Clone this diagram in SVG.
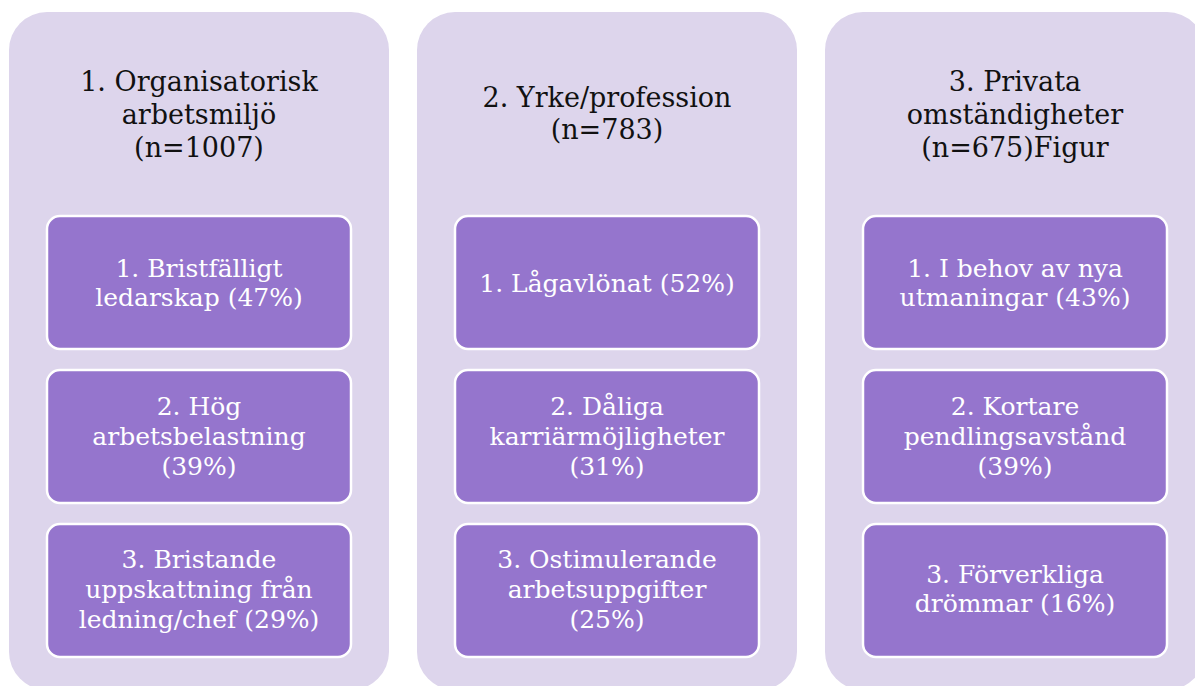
<svg xmlns="http://www.w3.org/2000/svg" width="1195" height="686" viewBox="0 0 1195 686">
<style>
.panel{fill:#DDD5EC;}
.box{fill:#9575CD;stroke:#FFFFFF;stroke-width:2.5;}
.title{font-family:"DejaVu Serif","Liberation Serif",serif;font-size:27px;fill:#111111;text-anchor:middle;}
.lbl{font-family:"DejaVu Serif","Liberation Serif",serif;font-size:25px;fill:#FFFFFF;text-anchor:middle;}
</style>
<rect width="1195" height="686" fill="#FFFFFF"/>
<g id="panel1">
<rect class="panel" x="9" y="12" width="380" height="678" rx="38" ry="38"/>
<text class="title"><tspan x="199" y="91">1. Organisatorisk</tspan><tspan x="199" y="124">arbetsmiljö</tspan><tspan x="199" y="157">(n=1007)</tspan></text>
</g>
<g id="p1b1">
<rect class="box" x="47" y="216" width="304" height="133" rx="13" ry="13"/>
<text class="lbl"><tspan x="199" y="277">1. Bristfälligt</tspan><tspan x="199" y="306">ledarskap (47%)</tspan></text>
</g>
<g id="p1b2">
<rect class="box" x="47" y="370" width="304" height="133" rx="13" ry="13"/>
<text class="lbl"><tspan x="199" y="415">2. Hög</tspan><tspan x="199" y="445">arbetsbelastning</tspan><tspan x="199" y="475">(39%)</tspan></text>
</g>
<g id="p1b3">
<rect class="box" x="47" y="524" width="304" height="133" rx="13" ry="13"/>
<text class="lbl"><tspan x="199" y="568">3. Bristande</tspan><tspan x="199" y="598">uppskattning från</tspan><tspan x="199" y="628">ledning/chef (29%)</tspan></text>
</g>
<g id="panel2">
<rect class="panel" x="417" y="12" width="380" height="678" rx="38" ry="38"/>
<text class="title"><tspan x="607" y="107">2. Yrke/profession</tspan><tspan x="607" y="139">(n=783)</tspan></text>
</g>
<g id="p2b1">
<rect class="box" x="455" y="216" width="304" height="133" rx="13" ry="13"/>
<text class="lbl"><tspan x="607" y="292">1. Lågavlönat (52%)</tspan></text>
</g>
<g id="p2b2">
<rect class="box" x="455" y="370" width="304" height="133" rx="13" ry="13"/>
<text class="lbl"><tspan x="607" y="415">2. Dåliga</tspan><tspan x="607" y="445">karriärmöjligheter</tspan><tspan x="607" y="475">(31%)</tspan></text>
</g>
<g id="p2b3">
<rect class="box" x="455" y="524" width="304" height="133" rx="13" ry="13"/>
<text class="lbl"><tspan x="607" y="568">3. Ostimulerande</tspan><tspan x="607" y="598">arbetsuppgifter</tspan><tspan x="607" y="628">(25%)</tspan></text>
</g>
<g id="panel3">
<rect class="panel" x="825" y="12" width="380" height="678" rx="38" ry="38"/>
<text class="title"><tspan x="1015" y="91">3. Privata</tspan><tspan x="1015" y="124">omständigheter</tspan><tspan x="1015" y="157">(n=675)Figur</tspan></text>
</g>
<g id="p3b1">
<rect class="box" x="863" y="216" width="304" height="133" rx="13" ry="13"/>
<text class="lbl"><tspan x="1015" y="277">1. I behov av nya</tspan><tspan x="1015" y="306">utmaningar (43%)</tspan></text>
</g>
<g id="p3b2">
<rect class="box" x="863" y="370" width="304" height="133" rx="13" ry="13"/>
<text class="lbl"><tspan x="1015" y="415">2. Kortare</tspan><tspan x="1015" y="445">pendlingsavstånd</tspan><tspan x="1015" y="475">(39%)</tspan></text>
</g>
<g id="p3b3">
<rect class="box" x="863" y="524" width="304" height="133" rx="13" ry="13"/>
<text class="lbl"><tspan x="1015" y="583">3. Förverkliga</tspan><tspan x="1015" y="612">drömmar (16%)</tspan></text>
</g>
<g id="connectors"/>
</svg>
